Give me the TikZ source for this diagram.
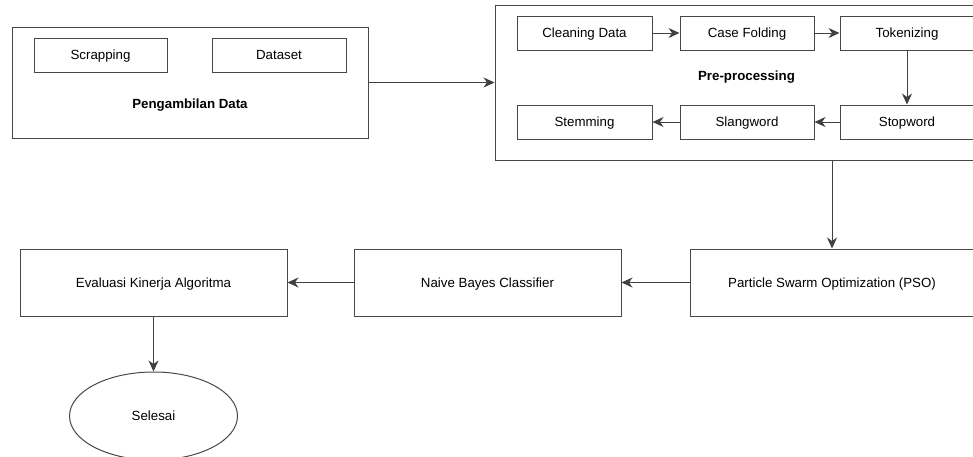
\documentclass[tikz,border=0pt]{standalone}
\usepackage{fontspec}
\setmainfont{Liberation Sans}
\usetikzlibrary{arrows.meta,shapes.geometric}
\begin{document}
\begin{tikzpicture}[x=1pt,y=-1pt,
  box/.style={draw=black!72, line width=1pt, rectangle, inner sep=0pt,
    font=\fontsize{13.3}{16}\selectfont, text=black, text height=9.5pt, text depth=0pt},
  lbl/.style={font=\bfseries\fontsize{13.3}{16}\selectfont, inner sep=0pt, text height=9.5pt, text depth=0pt},
  arr/.style={draw=black!75, line width=1pt, -{Stealth[length=11pt,width=10pt,inset=3.5pt]}}]
\useasboundingbox (0,0) rectangle (973,456);
\clip (0,0) rectangle (973,456);
% Pengambilan Data group
\node[box, minimum width=356pt, minimum height=111pt] (peng) at (190,82.5) {};
\node[box, minimum width=133pt, minimum height=34pt] (scrap) at (100.5,55) {Scrapping};
\node[box, minimum width=134pt, minimum height=34pt] (data) at (279,55) {Dataset};
\node[lbl] (penglbl) at (190,104) {Pengambilan Data};
% Pre-processing group
\node[box, minimum width=503pt, minimum height=155pt] (pre) at (746.5,82.5) {};
\node[box, minimum width=135pt, minimum height=34pt] (clean) at (584.5,33) {Cleaning Data};
\node[box, minimum width=134pt, minimum height=34pt] (case) at (747,33) {Case Folding};
\node[box, minimum width=134pt, minimum height=34pt] (tok) at (907,33) {Tokenizing};
\node[lbl] (prelbl) at (746.5,76) {Pre-processing};
\node[box, minimum width=134pt, minimum height=34pt] (stop) at (907,122) {Stopword};
\node[box, minimum width=134pt, minimum height=34pt] (slang) at (747,122) {Slangword};
\node[box, minimum width=135pt, minimum height=34pt] (stem) at (584.5,122) {Stemming};
% Bottom row
\node[box, minimum width=284pt, minimum height=67pt] (pso) at (832,282.5) {Particle Swarm Optimization (PSO)};
\node[box, minimum width=267pt, minimum height=67pt] (nb) at (487.5,282.5) {Naive Bayes Classifier};
\node[box, minimum width=267pt, minimum height=67pt] (eval) at (153.5,282.5) {Evaluasi Kinerja Algoritma};
\node[box, ellipse, minimum width=168pt, minimum height=88pt] (sel) at (153.5,416) {Selesai};
% connectors
\draw[arr] (peng.east) -- (pre.west);
\draw[arr] (clean) -- (case);
\draw[arr] (case) -- (tok);
\draw[arr] (tok) -- (stop);
\draw[arr] (stop) -- (slang);
\draw[arr] (slang) -- (stem);
\draw[arr] (pre.south -| pso.north) -- (pso.north);
\draw[arr] (pso) -- (nb);
\draw[arr] (nb) -- (eval);
\draw[arr] (eval) -- (sel);
\end{tikzpicture}
\end{document}
